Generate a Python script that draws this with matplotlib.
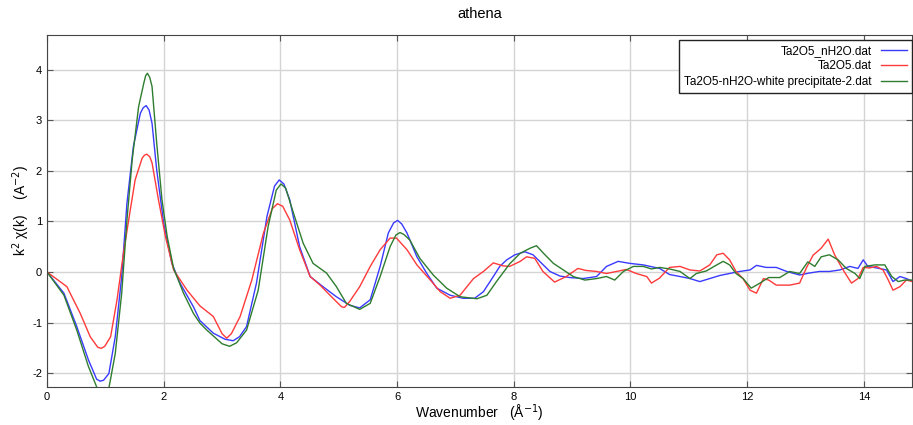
import matplotlib
matplotlib.use('Agg')
import matplotlib.pyplot as plt

plt.rcParams['font.family'] = ['Liberation Sans', 'DejaVu Sans']
plt.rcParams['axes.unicode_minus'] = False

# Ta2O5_nH2O.dat
k_blue = [0.00, 0.29, 0.51, 0.71, 0.85, 0.91, 0.97, 1.06, 1.17, 1.28, 1.37, 1.48, 1.60, 1.65, 1.70, 1.75,
          1.80, 1.88, 2.00, 2.14, 2.28, 2.51, 2.62, 2.85, 3.05, 3.19, 3.30, 3.42, 3.59, 3.77, 3.90, 3.98,
          4.06, 4.16, 4.33, 4.51, 4.73, 4.96, 5.19, 5.36, 5.54, 5.71, 5.85, 5.94, 6.01, 6.08, 6.17, 6.34,
          6.51, 6.68, 6.91, 7.13, 7.33, 7.48, 7.65,
          7.76, 7.88, 8.02, 8.19, 8.33, 8.48, 8.62, 8.79, 8.96, 9.19, 9.42, 9.59, 9.79, 9.99, 10.22,
          10.50, 10.67, 10.85, 11.02, 11.19, 11.36, 11.53, 11.70, 11.87, 12.05, 12.16, 12.33, 12.50,
          12.68, 12.90, 13.07, 13.24, 13.41, 13.59, 13.76, 13.90, 13.99, 14.07, 14.22, 14.39, 14.50,
          14.62, 14.73, 14.84]
y_blue = [0.00, -0.42, -1.08, -1.74, -2.12, -2.16, -2.14, -2.01, -1.28, -0.09, 1.36, 2.48, 3.14, 3.25, 3.29, 3.20,
          2.94, 2.02, 0.96, 0.17, -0.22, -0.69, -0.96, -1.21, -1.33, -1.36, -1.28, -1.08, -0.22, 1.10, 1.70, 1.82,
          1.74, 1.43, 0.50, -0.09, -0.29, -0.49, -0.66, -0.71, -0.55, 0.11, 0.77, 0.97, 1.02, 0.95, 0.77, 0.30,
          -0.03, -0.32, -0.46, -0.52, -0.52, -0.39, -0.09,
          0.11, 0.24, 0.34, 0.40, 0.34, 0.17, 0.01, -0.08, -0.11, -0.13, -0.09, 0.11, 0.21, 0.17, 0.14,
          0.07, -0.05, -0.09, -0.13, -0.19, -0.13, -0.07, -0.03, 0.01, 0.04, 0.13, 0.09, 0.09,
          0.01, -0.06, -0.02, 0.01, 0.01, 0.04, 0.11, 0.07, 0.24, 0.11, 0.08, 0.04, -0.19,
          -0.09, -0.13, -0.19]

# Ta2O5.dat
k_red = [0.00, 0.34, 0.57, 0.74, 0.87, 0.93, 0.99, 1.09, 1.20, 1.31, 1.40, 1.51, 1.63, 1.67, 1.71, 1.76,
         1.80, 1.91, 2.03, 2.17, 2.40, 2.62, 2.85, 3.00, 3.08, 3.16, 3.31, 3.51, 3.71, 3.86, 3.95, 4.04,
         4.16, 4.33, 4.51, 4.68, 4.85, 5.05, 5.10, 5.19, 5.36, 5.54, 5.71, 5.88, 5.99, 6.17, 6.34, 6.57,
         6.74, 6.91, 7.08, 7.31, 7.48, 7.65,
         7.82, 7.93, 8.11, 8.22, 8.36, 8.50, 8.70, 8.90, 9.10, 9.24, 9.42, 9.59, 9.76, 9.93, 10.10,
         10.28, 10.36, 10.50, 10.67, 10.85, 11.02, 11.19, 11.36, 11.48, 11.59, 11.70, 11.81, 11.93,
         12.05, 12.16, 12.28, 12.37, 12.50, 12.73, 12.90, 13.02, 13.13, 13.27, 13.39, 13.50, 13.62,
         13.70, 13.79, 13.90, 13.99, 14.10, 14.22, 14.33, 14.42, 14.50, 14.62, 14.73, 14.84]
y_red = [0.00, -0.29, -0.82, -1.28, -1.49, -1.51, -1.47, -1.28, -0.55, 0.37, 1.03, 1.82, 2.25, 2.31, 2.33, 2.28,
         2.16, 1.43, 0.70, 0.04, -0.36, -0.67, -0.88, -1.22, -1.31, -1.22, -0.88, -0.16, 0.77, 1.25, 1.35, 1.30,
         1.03, 0.44, -0.09, -0.26, -0.46, -0.69, -0.70, -0.58, -0.29, 0.11, 0.44, 0.67, 0.67, 0.44, 0.14, -0.16,
         -0.39, -0.52, -0.46, -0.13, 0.01, 0.18,
         0.12, 0.11, 0.21, 0.30, 0.27, 0.01, -0.20, -0.09, 0.07, 0.03, 0.01, -0.03, 0.01, 0.05, -0.03,
         -0.09, -0.22, -0.12, 0.09, 0.11, 0.04, 0.02, 0.14, 0.34, 0.37, 0.24, 0.01, -0.13,
         -0.36, -0.42, -0.13, -0.16, -0.26, -0.26, -0.22, 0.09, 0.33, 0.47, 0.65, 0.34, 0.09,
         -0.06, -0.22, -0.13, 0.09, 0.08, 0.11, 0.04, -0.16, -0.36, -0.29, -0.16, -0.19]

# Ta2O5-nH2O-white precipitate-2.dat
k_green = [0.00, 0.29, 0.51, 0.71, 0.86, 0.96, 1.06, 1.17, 1.28, 1.37, 1.46, 1.57, 1.66, 1.69, 1.72, 1.76,
           1.80, 1.88, 1.97, 2.06, 2.17, 2.34, 2.51, 2.62, 2.74, 3.00, 3.13, 3.25, 3.42, 3.62, 3.79, 3.93,
           4.01, 4.09, 4.19, 4.39, 4.56, 4.79, 4.96, 5.13, 5.36, 5.54, 5.71, 5.88, 5.98, 6.05, 6.12, 6.22,
           6.39, 6.62, 6.85, 7.08, 7.37, 7.54, 7.71, 7.93, 8.11, 8.28, 8.39, 8.51, 8.68, 8.85, 9.02,
           9.22, 9.42, 9.59, 9.73, 9.88,
           10.05, 10.22, 10.36, 10.50, 10.67, 10.85, 11.02, 11.13, 11.30, 11.48, 11.59, 11.70, 11.81,
           11.93, 12.07, 12.22, 12.37, 12.56, 12.73, 12.90, 13.04, 13.16, 13.27, 13.41, 13.56, 13.70,
           13.85, 13.93, 14.02, 14.19, 14.36, 14.48, 14.59, 14.70, 14.84]
y_green = [0.00, -0.46, -1.15, -1.87, -2.30, -2.55, -2.30, -1.61, -0.42, 1.03, 2.22, 3.27, 3.74, 3.88, 3.93, 3.85,
           3.67, 2.55, 1.43, 0.70, 0.07, -0.42, -0.82, -1.01, -1.15, -1.42, -1.47, -1.40, -1.15, -0.36, 0.90, 1.62,
           1.74, 1.66, 1.29, 0.57, 0.17, -0.02, -0.29, -0.62, -0.74, -0.62, -0.09, 0.50, 0.73, 0.78, 0.74, 0.63,
           0.27, -0.06, -0.32, -0.49, -0.53, -0.46, -0.18, 0.16, 0.37, 0.47, 0.52, 0.37, 0.17, 0.04, -0.09,
           -0.16, -0.13, -0.09, -0.16, 0.01,
           0.11, 0.11, 0.06, 0.09, 0.06, 0.01, -0.13, -0.03, 0.02, 0.14, 0.21, 0.14, -0.03,
           -0.13, -0.32, -0.22, -0.11, -0.11, 0.01, -0.03, 0.20, 0.11, 0.30, 0.34, 0.24, 0.07,
           -0.03, -0.13, 0.11, 0.14, 0.14, -0.09, -0.19, -0.16, -0.16]

labels = ['Ta2O5_nH2O.dat', 'Ta2O5.dat', 'Ta2O5-nH2O-white precipitate-2.dat']

fig = plt.figure(figsize=(9.13, 4.25), dpi=100)
ax = fig.add_axes([0.0515, 0.09, 0.947, 0.828])

ax.plot(k_blue, y_blue, color='#3a3aff', lw=1.0, label=labels[0])
ax.plot(k_red, y_red, color='#ff3a3a', lw=1.0, label=labels[1])
ax.plot(k_green, y_green, color='#2e7d2e', lw=1.0, label=labels[2])

ax.set_xlim(0, 14.82)
ax.set_ylim(-2.27, 4.69)
ax.set_xticks(range(0, 15, 2))
ax.set_yticks(range(-2, 5))
ax.grid(True, color='#d4d4d4', lw=1.0)
ax.set_axisbelow(True)
ax.tick_params(direction='in', top=True, right=True, length=4, labelsize=8, color='#555555')
for s in ax.spines.values():
    s.set_color('#444444')

ax.set_title('athena', fontsize=10.5, pad=12)
ax.set_xlabel('Wavenumber   (Å$^{-1}$)', fontsize=10, labelpad=1)
ax.set_ylabel('k$^{2}$ χ(k)    (A$^{-2}$)', fontsize=10, labelpad=0)

leg = ax.legend(loc='upper right', bbox_to_anchor=(1.0, 0.985), borderaxespad=0, markerfirst=False,
                fontsize=8.5, fancybox=False, framealpha=1, edgecolor='#222222',
                handlelength=2.2, labelspacing=0.3, borderpad=0.4)
leg.get_frame().set_linewidth(1.0)

fig.savefig('out.png', dpi=100)
